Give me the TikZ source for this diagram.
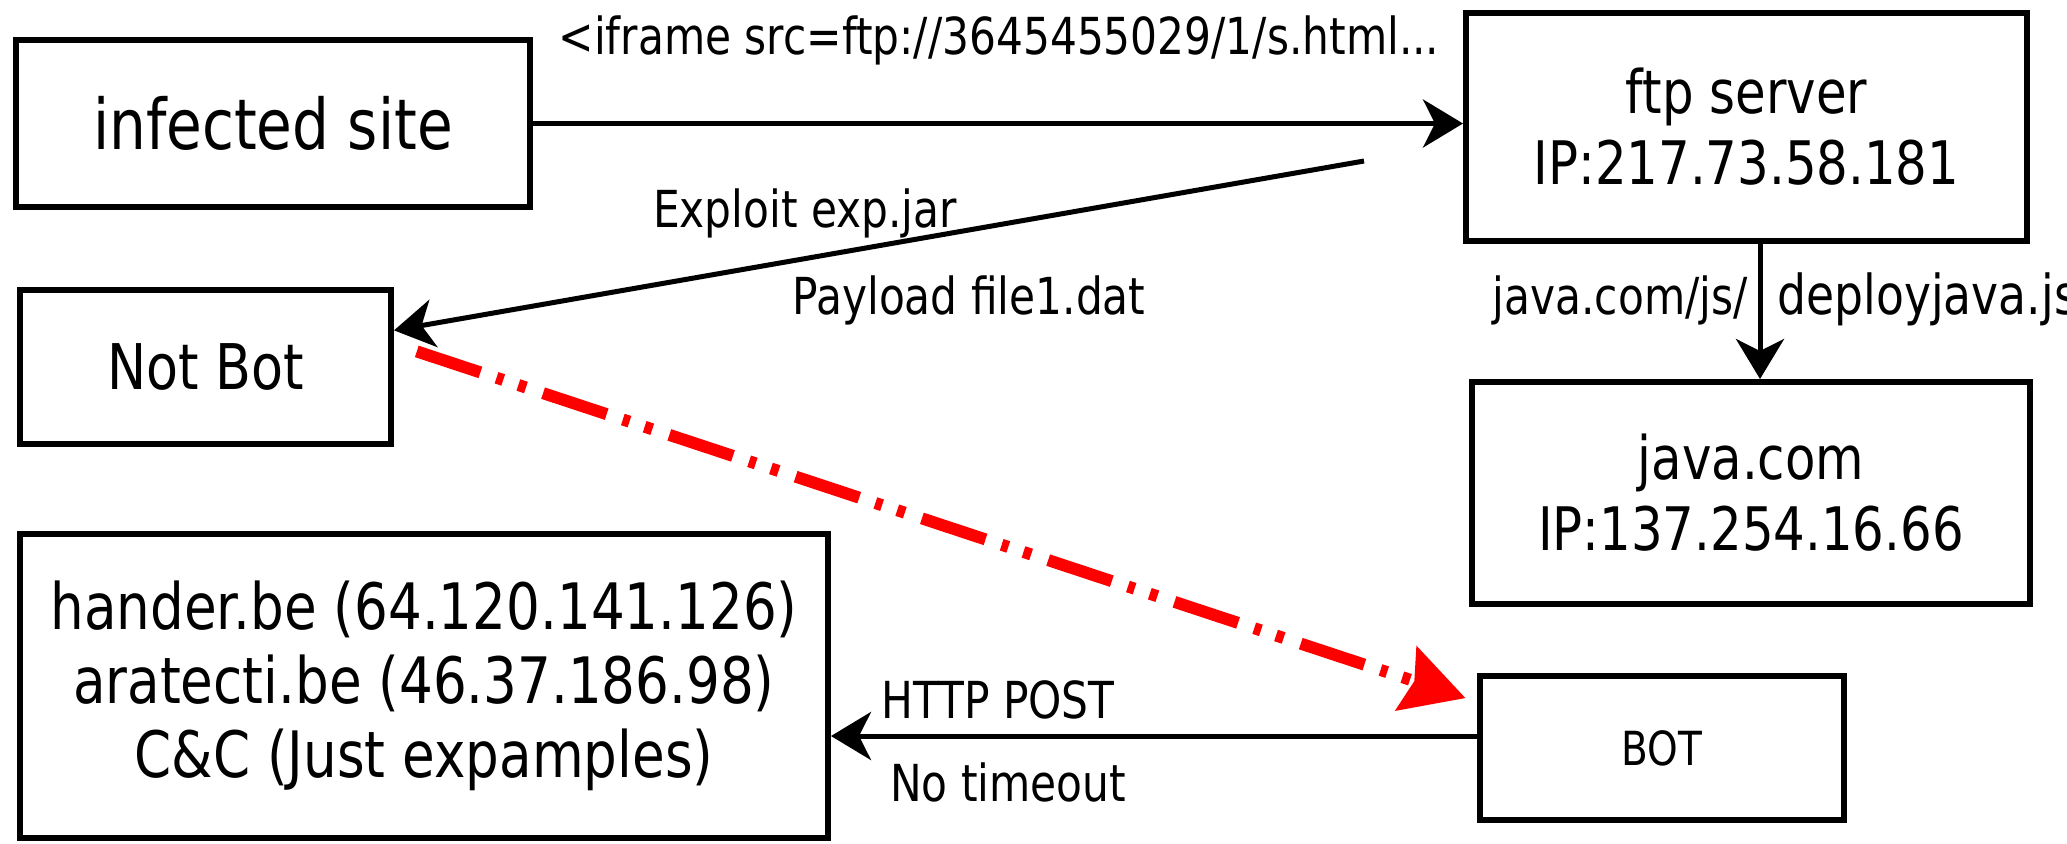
\documentclass[tikz,border=0pt]{standalone}
\usepackage{fontspec}
\setmainfont{DejaVu Sans}[FakeStretch=0.83]
\usetikzlibrary{arrows.meta}

\begin{document}
\begin{tikzpicture}[x=0.5pt,y=-0.5pt,>={Stealth[length=20pt,width=24pt,inset=6pt]}]
\tikzstyle{every node}=[inner sep=0pt];
\tikzstyle{box}=[draw,line width=3pt,align=center];
\tikzstyle{lbl}=[font=\fontsize{25.5}{30}\selectfont,anchor=base];
\tikzstyle{arr}=[->,line width=2.5pt];
\tikzstyle{redarr}=[-{Stealth[length=31pt,width=33pt,inset=4pt]},red,line width=6pt,
  dash pattern=on 33.5pt off 8.5pt on 3.5pt off 8pt on 4pt off 9pt];
\useasboundingbox (0,0) rectangle (2067,843);
% boxes
    \node[box,minimum width=257pt,minimum height=83.5pt,font=\fontsize{35}{42}\selectfont] (site) at (273,123.5) {infected site};
    \node[box,minimum width=280.5pt,minimum height=114pt,font=\fontsize{30}{35.5}\selectfont] (ftp) at (1746.5,127) {ftp server\\IP:217.73.58.181};
    \node[box,minimum width=185.5pt,minimum height=77pt,font=\fontsize{31.5}{38}\selectfont] (notbot) at (205.5,367) {Not Bot};
    \node[box,minimum width=279pt,minimum height=111pt,font=\fontsize{30}{35.5}\selectfont] (java) at (1751,493) {java.com\\IP:137.254.16.66};
    \node[box,minimum width=404pt,minimum height=152pt,font=\fontsize{32}{37}\selectfont] (cc) at (424,686) {hander.be (64.120.141.126)\\aratecti.be (46.37.186.98)\\C\&C (Just expamples)};
    \node[box,minimum width=182pt,minimum height=72pt,font=\fontsize{23.5}{28}\selectfont] (bot) at (1662,748) {BOT};
% labels
    \node[lbl] (iframe) at (999,54) {<iframe src=ftp://3645455029/1/s.html...};
    \node[lbl] (exploit) at (805,227) {Exploit exp.jar};
    \node[lbl] (payload) at (969,314) {Payload file1.dat};
    \node[lbl,anchor=base east] (jsdir) at (1748,314) {java.com/js/};
    \node[lbl,anchor=base west,font=\fontsize{27.5}{32}\selectfont] (deploy) at (1777,314) {deployjava.js};
    \node[lbl] (post) at (998,718) {HTTP POST};
    \node[lbl] (timeout) at (1008,801) {No timeout};
% free ends
    \coordinate (ftpout) at (1364,161);
    \coordinate (jv) at (1760,0);
    \coordinate (cc_in) at (0,736);
% edges
    \draw[arr] (site.east) -- (ftp.west |- site.east);
    \draw[arr] (ftpout) -- (notbot.11);
    \draw[arr] (ftp.south -| jv) -- (java.north -| jv);
    \draw[redarr,shorten <=12pt,shorten >=6pt] (notbot.7) -- (bot.166);
    \draw[arr] (bot.west |- cc_in) -- (cc.east |- cc_in);
\end{tikzpicture}
\end{document}
